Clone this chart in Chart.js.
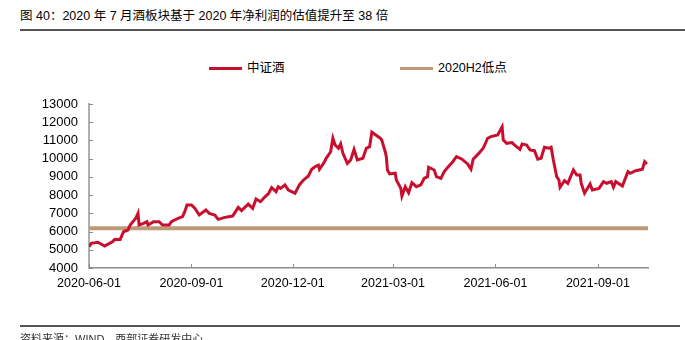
<!DOCTYPE html>
<html>
<head>
<meta charset="utf-8">
<script src="https://cdn.jsdelivr.net/npm/chart.js@4/dist/chart.umd.min.js"></script>
<style>
  html, body { margin: 0; padding: 0; background: #fff; }
  body { width: 685px; height: 340px; position: relative; overflow: hidden;
         font-family: "Liberation Sans", Arial, "Noto Sans CJK SC", sans-serif; color: #000; }
  #title { position: absolute; left: 20px; top: 5px; font-size: 12.5px; white-space: nowrap; }
  .rule { position: absolute; left: 20px; right: 0; height: 2px; background: #555; }
  #source { position: absolute; left: 20px; top: 330px; font-size: 11px; color: #333; white-space: nowrap; }
  #legend { position: absolute; top: 60px; left: 0; width: 685px; height: 16px; }
  .item { position: absolute; top: 0; font-size: 12.5px; line-height: 16px; white-space: nowrap; }
  .swatch { position: absolute; top: 7px; width: 33px; height: 3px; }
  canvas { position: absolute; left: 0; top: 0; }
</style>
</head>
<body>
<div id="title">图 40：2020 年 7 月酒板块基于 2020 年净利润的估值提升至 38 倍</div>
<div class="rule" style="top:29px"></div>
<div id="legend"></div>
<canvas id="valuationChart" width="685" height="340"></canvas>
<div class="rule" style="top:325px; right:5px"></div>
<div id="source">资料来源：WIND，西部证券研发中心</div>

<script>
// 中证酒 index level, read at each turning point
const indexDates = [
  '2020-06-01', '2020-06-03', '2020-06-09', '2020-06-15', '2020-06-22', '2020-06-24', '2020-06-29',
  '2020-07-02', '2020-07-06', '2020-07-08', '2020-07-13', '2020-07-15', '2020-07-16', '2020-07-20',
  '2020-07-23', '2020-07-24', '2020-07-29', '2020-08-03', '2020-08-06', '2020-08-12', '2020-08-14',
  '2020-08-20', '2020-08-24', '2020-08-26', '2020-08-28', '2020-09-01', '2020-09-04', '2020-09-08',
  '2020-09-14', '2020-09-17', '2020-09-22', '2020-09-25', '2020-10-01', '2020-10-08', '2020-10-13',
  '2020-10-16', '2020-10-22', '2020-10-26', '2020-10-29', '2020-11-02', '2020-11-06', '2020-11-09',
  '2020-11-12', '2020-11-16', '2020-11-18', '2020-11-20', '2020-11-24', '2020-11-27', '2020-11-30',
  '2020-12-03', '2020-12-07', '2020-12-10', '2020-12-15', '2020-12-18', '2020-12-21', '2020-12-24',
  '2020-12-25', '2020-12-29', '2020-12-31', '2021-01-04', '2021-01-06', '2021-01-08', '2021-01-11',
  '2021-01-13', '2021-01-15', '2021-01-19', '2021-01-22', '2021-01-25', '2021-01-28', '2021-02-02',
  '2021-02-05', '2021-02-08', '2021-02-10', '2021-02-18', '2021-02-19', '2021-02-22', '2021-02-23',
  '2021-02-24', '2021-02-26', '2021-03-03', '2021-03-04', '2021-03-08', '2021-03-09', '2021-03-12',
  '2021-03-15', '2021-03-18', '2021-03-22', '2021-03-26', '2021-03-29', '2021-04-01', '2021-04-02',
  '2021-04-07', '2021-04-09', '2021-04-13', '2021-04-16', '2021-04-21', '2021-04-23', '2021-04-27',
  '2021-05-02', '2021-05-07', '2021-05-10', '2021-05-12', '2021-05-17', '2021-05-21', '2021-05-25',
  '2021-05-28', '2021-06-03', '2021-06-07', '2021-06-08', '2021-06-11', '2021-06-16', '2021-06-18',
  '2021-06-23', '2021-06-25', '2021-06-29', '2021-07-02', '2021-07-06', '2021-07-09', '2021-07-12',
  '2021-07-15', '2021-07-19', '2021-07-21', '2021-07-23', '2021-07-26', '2021-07-28', '2021-07-29',
  '2021-08-02', '2021-08-05', '2021-08-10', '2021-08-13', '2021-08-16', '2021-08-17', '2021-08-20',
  '2021-08-25', '2021-08-27', '2021-09-02', '2021-09-06', '2021-09-09', '2021-09-13', '2021-09-15',
  '2021-09-17', '2021-09-23', '2021-09-28', '2021-09-30', '2021-10-05', '2021-10-11', '2021-10-13',
  '2021-10-15'
];
const indexValues = [
  5170, 5355, 5410, 5210, 5440, 5570, 5570,
  5990, 6085, 6360, 6730, 7000, 6360, 6450,
  6540, 6360, 6540, 6540, 6360, 6360, 6540,
  6730, 6820, 7090, 7460, 7460, 7280, 6910,
  7180, 7000, 6910, 6670, 6780, 6850, 7330,
  7150, 7510, 7280, 7790, 7640, 7910, 8060,
  8410, 8190, 8460, 8370, 8560, 8280, 8190,
  8100, 8560, 8790, 9050, 9420, 9560, 9650,
  9420, 9780, 10020, 10380, 11120, 10750, 10570,
  10810, 10290, 9740, 9930, 10510, 9930, 10020,
  10570, 10660, 11450, 11100, 11000, 10380, 10110,
  9380, 9160, 9200, 8830, 8370, 7950, 8460,
  8130, 8680, 8460, 8560, 8920, 9010, 9530,
  9380, 9010, 8920, 9290, 9650, 9780, 10110,
  9970, 9710, 9420, 9970, 10290, 10570, 11120,
  11210, 11300, 11750, 11030, 10840, 10880, 10750,
  10510, 10810, 10750, 10480, 10440, 9970, 10020,
  10630, 10570, 10630, 9930, 9010, 8830, 8430,
  8790, 8650, 9380, 9100, 9100, 8650, 8100,
  8610, 8280, 8370, 8740, 8650, 8740, 8430,
  8740, 8500, 9290, 9200, 9340, 9420, 9840,
  9710
];

// 2020H2 low, drawn across the whole range
const lowLevel = 6180;

const xTickDates = ['2020-06-01', '2020-09-01', '2020-12-01', '2021-03-01', '2021-06-01', '2021-09-01'];
const xEndDate = '2021-10-16';
const yTicks = [4000, 5000, 6000, 7000, 8000, 9000, 10000, 11000, 12000, 13000];

const seriesNames = ['中证酒', '2020H2低点'];
const seriesColors = ['#c8102e', '#bc9a78'];

const DAY = 86400000;
const origin = Date.UTC(2020, 5, 1);
function dayOf(s) {
  const [y, m, d] = s.split('-').map(Number);
  return (Date.UTC(y, m - 1, d) - origin) / DAY;
}

// legend
const legendPos = [209, 400];
const legend = document.getElementById('legend');
seriesNames.forEach((name, i) => {
  const item = document.createElement('div');
  item.className = 'item';
  item.style.left = legendPos[i] + 'px';
  item.innerHTML = `<span class="swatch" style="left:0;background:${seriesColors[i]}"></span>` +
    `<span style="margin-left:38px">${name}</span>`;
  legend.appendChild(item);
});

// inward tick marks on both axes
const innerTicks = {
  id: 'innerTicks',
  afterDraw(chart) {
    const { ctx, chartArea, scales } = chart;
    ctx.save();
    ctx.strokeStyle = '#8c8c8c';
    ctx.lineWidth = 1;
    ctx.beginPath();
    scales.y.ticks.forEach(t => {
      const py = Math.round(scales.y.getPixelForValue(t.value)) + 0.5;
      ctx.moveTo(chartArea.left, py);
      ctx.lineTo(chartArea.left + 4, py);
    });
    scales.x.ticks.forEach(t => {
      const px = Math.round(scales.x.getPixelForValue(t.value)) + 0.5;
      ctx.moveTo(px, chartArea.bottom);
      ctx.lineTo(px, chartArea.bottom - 4);
    });
    ctx.stroke();
    ctx.restore();
  }
};

Chart.defaults.font.family = '"Liberation Sans", Arial, "Noto Sans CJK SC", sans-serif';
Chart.defaults.color = '#000';

new Chart(document.getElementById('valuationChart'), {
  type: 'line',
  data: {
    datasets: [
      {
        label: seriesNames[0],
        data: indexDates.map((d, i) => ({ x: dayOf(d), y: indexValues[i] })),
        borderColor: seriesColors[0],
        borderWidth: 3,
        pointRadius: 0,
        tension: 0
      },
      {
        label: seriesNames[1],
        data: [{ x: 0, y: lowLevel }, { x: dayOf(xEndDate), y: lowLevel }],
        borderColor: seriesColors[1],
        borderWidth: 4,
        pointRadius: 0,
        tension: 0
      }
    ]
  },
  options: {
    responsive: false,
    animation: false,
    layout: { padding: { top: 104, right: 37, bottom: 42, left: 0 } },
    plugins: { legend: { display: false }, tooltip: { enabled: false } },
    scales: {
      x: {
        type: 'linear',
        min: 0,
        max: dayOf(xEndDate),
        afterBuildTicks: scale => { scale.ticks = xTickDates.map(d => ({ value: dayOf(d) })); },
        afterFit: scale => { scale.height = 30; },
        ticks: {
          autoSkip: false,
          maxRotation: 0,
          padding: 8,
          font: { size: 12.5 },
          callback: (v, i) => xTickDates[i]
        },
        grid: { drawOnChartArea: false, drawTicks: false },
        border: { color: '#8c8c8c', width: 1.5 }
      },
      y: {
        min: 4000,
        max: 13000,
        afterBuildTicks: scale => { scale.ticks = yTicks.map(v => ({ value: v })); },
        afterFit: scale => { scale.width = 89; },
        ticks: { autoSkip: false, padding: 11, font: { size: 13 }, callback: v => String(v) },
        grid: { drawOnChartArea: false, drawTicks: false },
        border: { color: '#b0b0b0', width: 2 }
      }
    }
  },
  plugins: [innerTicks]
});
</script>
</body>
</html>
